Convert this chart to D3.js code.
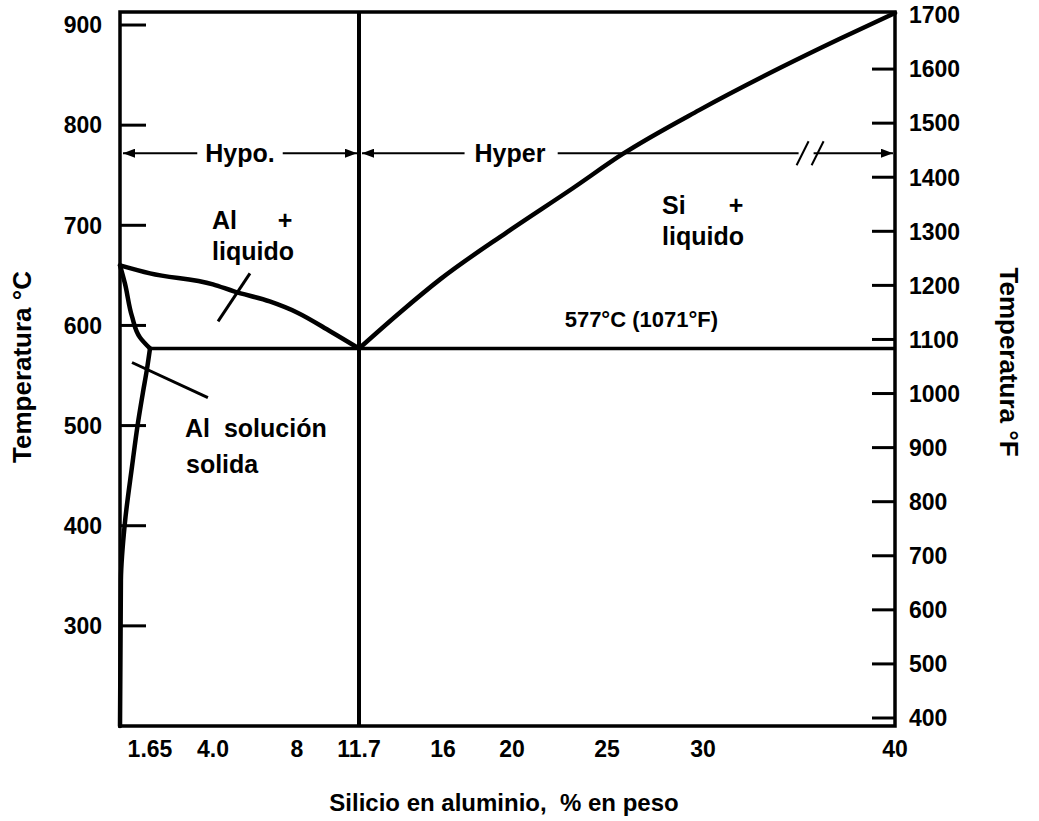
<!DOCTYPE html>
<html>
<head>
<meta charset="utf-8">
<script src="https://cdn.jsdelivr.net/npm/d3@7"></script>
<style>
  body { margin: 0; background: #fff; }
  svg text { font-family: "Liberation Sans", Arial, Helvetica, sans-serif; font-weight: bold; fill: #000; white-space: pre; }
</style>
</head>
<body>
<svg id="chart" width="1039" height="821"></svg>
<script>
// Silicon content (wt %) labels on the schematic, broken composition axis
const siTicks = [1.65, 4.0, 8, 11.7, 16, 20, 25, 30, 40];
const siTickLabels = ["1.65", "4.0", "8", "11.7", "16", "20", "25", "30", "40"];

// Temperature ticks
const celsiusTicks = [300, 400, 500, 600, 700, 800, 900];
const fahrenheitTicks = [400, 500, 600, 700, 800, 900, 1000, 1100, 1200, 1300, 1400, 1500, 1600, 1700];

// Phase boundaries as [wt % Si, °C]
const liquidusAl = [[0, 660], [1.65, 652], [4, 641], [5, 634], [6.7, 624], [8, 613], [10, 594], [11.7, 577]];
const liquidusSi = [[11.7, 577], [13.8, 613], [15.85, 646], [19.7, 693], [23.2, 737], [25.8, 771], [29.8, 815], [34, 857], [37.1, 886], [40, 912]];
const solidus = [[0, 660], [0.27, 642], [0.66, 609], [1.1, 588], [1.65, 577]];
const solvus = [[1.65, 577], [1.48, 556], [1.26, 533], [0.99, 503], [0.66, 459], [0.27, 403], [0.05, 346], [0, 200]];

// Invariant point
const eutecticTempC = 577;
const eutecticTempF = 1071;
const eutecticSi = 11.7;
const maxSolubilitySi = 1.65;

// Region guide arrows (temperature level) and the axis break position
const guideTempC = 772;
const axisBreakSi = 35.5;

// Leader lines from region labels to the boundaries [wt % Si, °C]
const leaderAlLiquid = [[4.24, 604], [5.76, 652]];
const leaderAlSolid = [[0.66, 563], [3.81, 528]];

const svg = d3.select("#chart");

// Composition axis is drawn schematically (non-uniform spacing, break before 40 %)
const x = d3.scaleLinear()
  .domain([0, 1.65, 4, 8, 11.7, 16, 20, 25, 30, 40])
  .range([120, 150, 213, 297, 359, 443, 512, 607, 703, 895]);
const yC = d3.scaleLinear().domain([200, 913]).range([726, 12]);
const yF = d3.scaleLinear().domain([400, 1700]).range([718, 15]);

const [x0, x1] = [x(0), x(40)];
const [yTop, yBot] = [yC(913), yC(200)];

// Arrowhead marker
const defs = svg.append("defs");
defs.append("marker")
  .attr("id", "arrow")
  .attr("viewBox", "0 0 12 9")
  .attr("refX", 12).attr("refY", 4.5)
  .attr("markerWidth", 12).attr("markerHeight", 9)
  .attr("markerUnits", "userSpaceOnUse")
  .attr("orient", "auto-start-reverse")
  .append("path").attr("d", "M0,0 L12,4.5 L0,9 Z").attr("fill", "#000");

// Left (°C) ticks, drawn inward
svg.append("g").selectAll("line").data(celsiusTicks).join("line")
  .attr("x1", x0).attr("x2", x0 + 26)
  .attr("y1", d => yC(d)).attr("y2", d => yC(d))
  .attr("stroke", "#000").attr("stroke-width", 3);
svg.append("g").selectAll("text").data(celsiusTicks).join("text")
  .attr("x", 102).attr("y", d => yC(d)).attr("dy", "0.36em")
  .attr("text-anchor", "end").attr("font-size", 23)
  .text(d => d);

// Right (°F) ticks, drawn inward
svg.append("g").selectAll("line").data(fahrenheitTicks.filter(d => d < 1700)).join("line")
  .attr("x1", x1).attr("x2", x1 - 23)
  .attr("y1", d => yF(d)).attr("y2", d => yF(d))
  .attr("stroke", "#000").attr("stroke-width", 3);
svg.append("g").selectAll("text").data(fahrenheitTicks).join("text")
  .attr("x", 909).attr("y", d => yF(d)).attr("dy", "0.36em")
  .attr("text-anchor", "start").attr("font-size", 23)
  .text(d => d);

// Composition labels
svg.append("g").selectAll("text").data(siTicks).join("text")
  .attr("x", d => x(d)).attr("y", 757)
  .attr("text-anchor", "middle").attr("font-size", 23)
  .text((d, i) => siTickLabels[i]);

// Plot frame
svg.append("rect")
  .attr("x", x0).attr("y", yTop).attr("width", x1 - x0).attr("height", yBot - yTop)
  .attr("fill", "none").attr("stroke", "#000").attr("stroke-width", 3.5);

// Eutectic composition line
svg.append("line")
  .attr("x1", x(eutecticSi)).attr("x2", x(eutecticSi))
  .attr("y1", yTop).attr("y2", yBot)
  .attr("stroke", "#000").attr("stroke-width", 4);

// Eutectic isotherm
svg.append("line")
  .attr("x1", x(maxSolubilitySi)).attr("x2", x1)
  .attr("y1", yC(eutecticTempC)).attr("y2", yC(eutecticTempC))
  .attr("stroke", "#000").attr("stroke-width", 3.5);

// Phase boundary curves
const lineX = d3.line().x(d => x(d[0])).y(d => yC(d[1])).curve(d3.curveMonotoneX);
const lineY = d3.line().x(d => x(d[0])).y(d => yC(d[1])).curve(d3.curveMonotoneY);
const curves = svg.append("g").attr("fill", "none").attr("stroke", "#000")
  .attr("stroke-width", 4.5).attr("stroke-linejoin", "round").attr("stroke-linecap", "round");
curves.append("path").attr("d", lineX(liquidusAl));
curves.append("path").attr("d", lineX(liquidusSi));
curves.append("path").attr("d", lineY(solidus));
curves.append("path").attr("d", lineY(solvus));

// Leader lines
const lineStraight = d3.line().x(d => x(d[0])).y(d => yC(d[1]));
svg.append("g").attr("stroke", "#000").attr("stroke-width", 3).attr("fill", "none")
  .selectAll("path").data([leaderAlLiquid, leaderAlSolid]).join("path")
  .attr("d", lineStraight);

// Region guide arrows with labels
const gy = yC(guideTempC);
const hypo = svg.append("text").attr("x", 240).attr("y", gy)
  .attr("dy", "0.36em").attr("text-anchor", "middle").attr("font-size", 25).text("Hypo.");
const hypoBox = hypo.node().getBBox();
const hyper = svg.append("text").attr("x", 510).attr("y", gy)
  .attr("dy", "0.36em").attr("text-anchor", "middle").attr("font-size", 25).text("Hyper");
const hyperBox = hyper.node().getBBox();

const guides = svg.append("g").attr("stroke", "#000").attr("stroke-width", 2);
guides.append("line")
  .attr("x1", hypoBox.x - 8).attr("x2", x0 + 3).attr("y1", gy).attr("y2", gy)
  .attr("marker-end", "url(#arrow)");
guides.append("line")
  .attr("x1", hypoBox.x + hypoBox.width + 8).attr("x2", x(eutecticSi) - 2).attr("y1", gy).attr("y2", gy)
  .attr("marker-end", "url(#arrow)");
guides.append("line")
  .attr("x1", hyperBox.x - 10).attr("x2", x(eutecticSi) + 3).attr("y1", gy).attr("y2", gy)
  .attr("marker-end", "url(#arrow)");
const bx = x(axisBreakSi);
guides.append("line")
  .attr("x1", hyperBox.x + hyperBox.width + 12).attr("x2", bx - 10).attr("y1", gy).attr("y2", gy);
guides.append("line")
  .attr("x1", bx + 5).attr("x2", x1 - 2).attr("y1", gy).attr("y2", gy)
  .attr("marker-end", "url(#arrow)");
// axis-break slashes
[-6, 9].forEach(off => {
  guides.append("line")
    .attr("x1", bx + off - 6).attr("y1", gy + 12)
    .attr("x2", bx + off + 6).attr("y2", gy - 12);
});

// Region labels
const labels = [
  { t: "Al", x: 212, y: 229, a: "start" },
  { t: "+", x: 285, y: 229, a: "middle" },
  { t: "liquido", x: 212, y: 260, a: "start" },
  { t: "Si", x: 662, y: 214, a: "start" },
  { t: "+", x: 736, y: 214, a: "middle" },
  { t: "liquido", x: 662, y: 245, a: "start" },
  { t: "Al  solución", x: 185, y: 437, a: "start" },
  { t: "solida", x: 186, y: 473, a: "start" }
];
svg.append("g").selectAll("text").data(labels).join("text")
  .attr("x", d => d.x).attr("y", d => d.y).attr("text-anchor", d => d.a)
  .attr("font-size", 25).text(d => d.t);

// Eutectic temperature label
svg.append("text").attr("x", 718).attr("y", 327).attr("font-size", 22)
  .attr("text-anchor", "end")
  .text(`${eutecticTempC}°C (${eutecticTempF}°F)`);

// Axis titles
svg.append("text")
  .attr("transform", "translate(31,367) rotate(-90)")
  .attr("text-anchor", "middle").attr("font-size", 26)
  .text("Temperatura °C");
svg.append("text")
  .attr("transform", "translate(1000,362) rotate(90)")
  .attr("text-anchor", "middle").attr("font-size", 26)
  .text("Temperatura °F");
svg.append("text")
  .attr("x", 504).attr("y", 811).attr("text-anchor", "middle").attr("font-size", 24)
  .text("Silicio en aluminio,  % en peso");
</script>
</body>
</html>
